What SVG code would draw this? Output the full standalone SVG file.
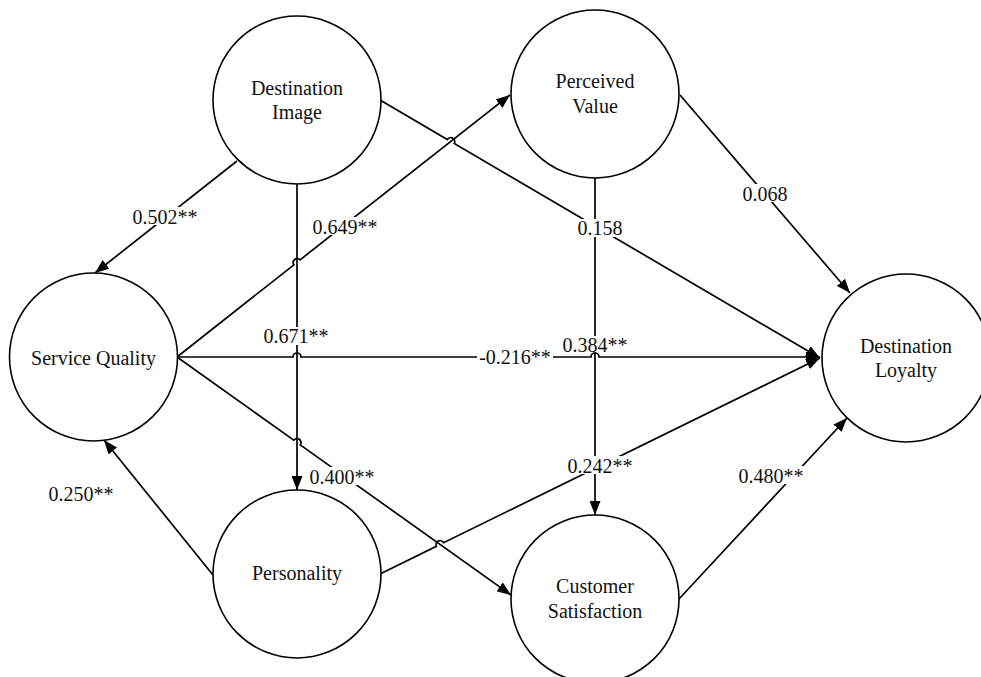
<svg xmlns="http://www.w3.org/2000/svg" width="981" height="677" viewBox="0 0 981 677">
<style>
.node circle{fill:#fff;stroke:#000;stroke-width:1.6}
.node text,.lbl text{font-family:"Liberation Serif","Times New Roman",serif;font-size:20px;fill:#111;text-anchor:middle}
.conn path{fill:none;stroke:#000;stroke-width:1.7}
.arr{marker-end:url(#ah)}
.lbl rect{fill:#fff}
</style>
<defs>
<marker id="ah" markerUnits="userSpaceOnUse" markerWidth="15" markerHeight="11" refX="14" refY="5.5" orient="auto">
<path d="M0,0 L14,5.5 L0,11 z" fill="#000"/>
</marker>
</defs>
<rect width="981" height="677" fill="#fff"/>
<g id="connectors" class="conn">
<path class="arr" d="M237,161 L95,273"/>
<path class="arr" d="M297,184 L297,490"/>
<path class="arr" d="M177,357 L293.9,264.8 A4,4 0 0 1 300.1,259.8 L510,95"/>
<path class="arr" d="M380,100 L447.35,139.48 A4,4 0 0 1 454.25,143.52 L820,358"/>
<path class="arr" d="M680,95 L850,293"/>
<path class="arr" d="M595,178 L595,515"/>
<path class="arr" d="M177,357 L293,357 A4,4 0 0 1 301,357 L591,357 A4,4 0 0 1 599,357 L820,357"/>
<path class="arr" d="M177,357 L293.74,440.18 A4,4 0 0 1 300.26,444.82 L511,595"/>
<path class="arr" d="M213,575 L104,440"/>
<path class="arr" d="M380,574 L436.41,546.26 A4,4 0 0 1 443.59,542.74 L820,358"/>
<path class="arr" d="M679,599 L847,418"/>
</g>
<g id="labels" class="lbl">
<rect x="131" y="207" width="68" height="18"/><text x="165" y="224">0.502**</text>
<rect x="310" y="217" width="70" height="18"/><text x="345" y="234">0.649**</text>
<rect x="261" y="327" width="70" height="18"/><text x="296" y="343">0.671**</text>
<rect x="576" y="219" width="49" height="18"/><text x="600" y="235">0.158</text>
<rect x="741" y="184" width="49" height="18"/><text x="765" y="201">0.068</text>
<rect x="477" y="347" width="76" height="18"/><text x="515" y="364">-0.216**</text>
<rect x="561" y="336" width="69" height="16"/><text x="595" y="352">0.384**</text>
<rect x="565" y="456" width="70" height="18"/><text x="600" y="473">0.242**</text>
<rect x="307" y="467" width="70" height="18"/><text x="342" y="484">0.400**</text>
<rect x="46" y="484" width="70" height="18"/><text x="81" y="501">0.250**</text>
<rect x="736" y="466" width="70" height="18"/><text x="771" y="483">0.480**</text>
</g>
<g id="destination-image" class="node"><circle cx="297" cy="100" r="84"/><text x="297" y="95">Destination</text><text x="297" y="119">Image</text></g>
<g id="perceived-value" class="node"><circle cx="595" cy="94" r="84"/><text x="595" y="88">Perceived</text><text x="595" y="113">Value</text></g>
<g id="service-quality" class="node"><circle cx="93.5" cy="357" r="84"/><text x="93.5" y="365">Service Quality</text></g>
<g id="destination-loyalty" class="node"><circle cx="906" cy="358" r="84"/><text x="906" y="353">Destination</text><text x="906" y="377">Loyalty</text></g>
<g id="personality" class="node"><circle cx="297" cy="574" r="84"/><text x="297" y="580">Personality</text></g>
<g id="customer-satisfaction" class="node"><circle cx="595" cy="599" r="84"/><text x="595" y="593">Customer</text><text x="595" y="618">Satisfaction</text></g>
</svg>
